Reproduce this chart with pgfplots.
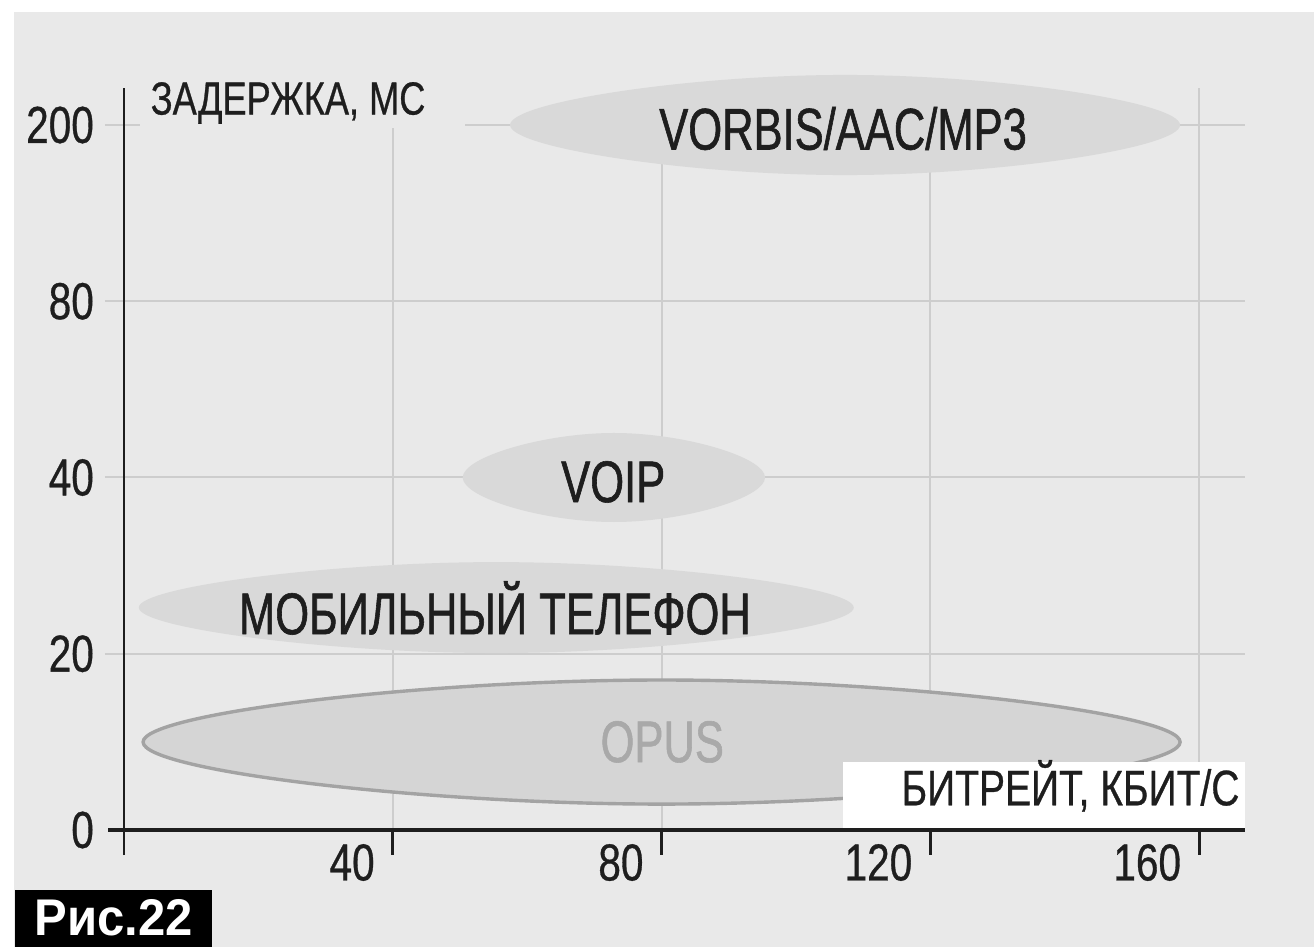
\documentclass[border=0pt]{standalone}
\usepackage{fontspec}
\setmainfont{Liberation Sans}[FakeStretch=0.78, FakeBold=0.6]
\newfontfamily\labfont{Liberation Sans}[FakeStretch=0.74, FakeBold=1]
\newfontfamily\risfont{Liberation Sans}[FakeStretch=0.95]
\usepackage{pgfplots}
\pgfplotsset{compat=1.18}

\definecolor{panel}{HTML}{E9E9E9}
\definecolor{gridc}{HTML}{CDCDCD}
\definecolor{ellfill}{HTML}{D9D9D9}
\definecolor{opusfill}{HTML}{D5D5D5}
\definecolor{opusdraw}{HTML}{A3A3A3}
\definecolor{textc}{HTML}{1E1E1E}
\definecolor{opustext}{HTML}{A9A9A9}

\begin{document}
\begin{tikzpicture}
\begin{axis}[
    scale only axis,
    width=280.25pt, height=185.5pt,
    xmin=0, xmax=166.815,
    ymin=0, ymax=4.21,
    clip=false,
    axis on top,
    axis x line*=bottom, axis y line*=left,
    axis line style={draw=none},
    tick style={draw=none},
    xtick={40,80,120,160},
    ytick={0,1,2,3,4},
    yticklabels={0,20,40,80,200},
    /pgf/number format/assume math mode=true,
    ticklabel style={font=\fontsize{13}{13}\selectfont, text=textc},
    xticklabel style={anchor=north east, xshift=-1pt},
    yticklabel style={anchor=east, xshift=-4pt},
]
    % background: white margin and grey panel
    \fill[white] (axis cs:-18.452,-0.6638) rectangle (axis cs:177.083,4.7092);
    \fill[panel] (axis cs:-16.37,-0.6638) rectangle (axis cs:177.083,4.641);

    % grid
    \draw[gridc, line width=0.5pt] (axis cs:-2.83,1) -- (axis cs:166.8,1);
    \draw[gridc, line width=0.5pt] (axis cs:-2.83,2) -- (axis cs:166.8,2);
    \draw[gridc, line width=0.5pt] (axis cs:-2.83,3) -- (axis cs:166.8,3);
    \draw[gridc, line width=0.5pt] (axis cs:-2.83,4) -- (axis cs:166.8,4);
    \draw[gridc, line width=0.5pt] (axis cs:40,0) -- (axis cs:40,4.21);
    \draw[gridc, line width=0.5pt] (axis cs:80,0) -- (axis cs:80,4.21);
    \draw[gridc, line width=0.5pt] (axis cs:120,0) -- (axis cs:120,4.21);
    \draw[gridc, line width=0.5pt] (axis cs:160,0) -- (axis cs:160,4.21);
    % the latency label hides the grid behind it
    \fill[panel] (axis cs:2.4,3.985) rectangle (axis cs:50.8,4.23);

    % codec areas
    \addplot[draw=none, fill=ellfill, smooth cycle, tension=0.83] coordinates
        {(57.45,4.0) (107.3,4.284) (157.15,4.0) (107.3,3.716)};
    \addplot[draw=none, fill=ellfill, smooth cycle, tension=0.83] coordinates
        {(50.4,2.0) (72.9,2.2525) (95.4,2.0) (72.9,1.7475)};
    \addplot[draw=none, fill=ellfill, smooth cycle, tension=0.83] coordinates
        {(2.2,1.262) (55.4,1.52) (108.6,1.262) (55.4,1.004)};
    \addplot[draw=opusdraw, line width=0.85pt, fill=opusfill, smooth cycle, tension=0.83] coordinates
        {(2.84,0.499) (80.0,0.851) (157.16,0.499) (80.0,0.147)};

    % white box under the x label
    \fill[white] (axis cs:107.0,0) rectangle (axis cs:166.8,0.386);

    % axis lines and ticks
    \draw[textc, line width=0.6pt] (axis cs:0,-0.142) -- (axis cs:0,4.21);
    \draw[textc, line width=1.2pt] (axis cs:-2.38,0) -- (axis cs:166.8,0);
    \draw[textc, line width=0.75pt] (axis cs:40,0) -- (axis cs:40,-0.142);
    \draw[textc, line width=0.75pt] (axis cs:80,0) -- (axis cs:80,-0.142);
    \draw[textc, line width=0.75pt] (axis cs:120,0) -- (axis cs:120,-0.142);
    \draw[textc, line width=0.75pt] (axis cs:160,0) -- (axis cs:160,-0.142);

    % labels
    \node[anchor=west, text=textc, inner sep=0pt, font=\fontsize{11.6}{11.6}\selectfont]
        at (axis cs:3.87,4.125) {ЗАДЕРЖКА, МС};
    \node[anchor=east, text=textc, inner sep=0pt, font=\fontsize{12.5}{12.5}\selectfont]
        at (axis cs:166.1,0.25) {БИТРЕЙТ, КБИТ/С};
    \node[text=textc, font=\labfont\fontsize{14.7}{14.7}\selectfont] at (axis cs:107.0,3.98) {VORBIS/AAC/MP3};
    \node[text=textc, font=\labfont\fontsize{14.7}{14.7}\selectfont] at (axis cs:72.8,1.975) {VOIP};
    \node[text=textc, font=\labfont\fontsize{14.7}{14.7}\selectfont] at (axis cs:55.2,1.26) {МОБИЛЬНЫЙ ТЕЛЕФОН};
    \node[text=opustext, font=\labfont\fontsize{14.7}{14.7}\selectfont] at (axis cs:80.1,0.5) {OPUS};

    % figure tag
    \fill[black] (axis cs:-16.2,-0.34) rectangle (axis cs:13.1,-0.6638);
    \node[text=white, font=\risfont\bfseries\fontsize{12.9}{12.9}\selectfont]
        at (axis cs:-1.55,-0.5) {Рис.22};
\end{axis}
\end{tikzpicture}
\end{document}
